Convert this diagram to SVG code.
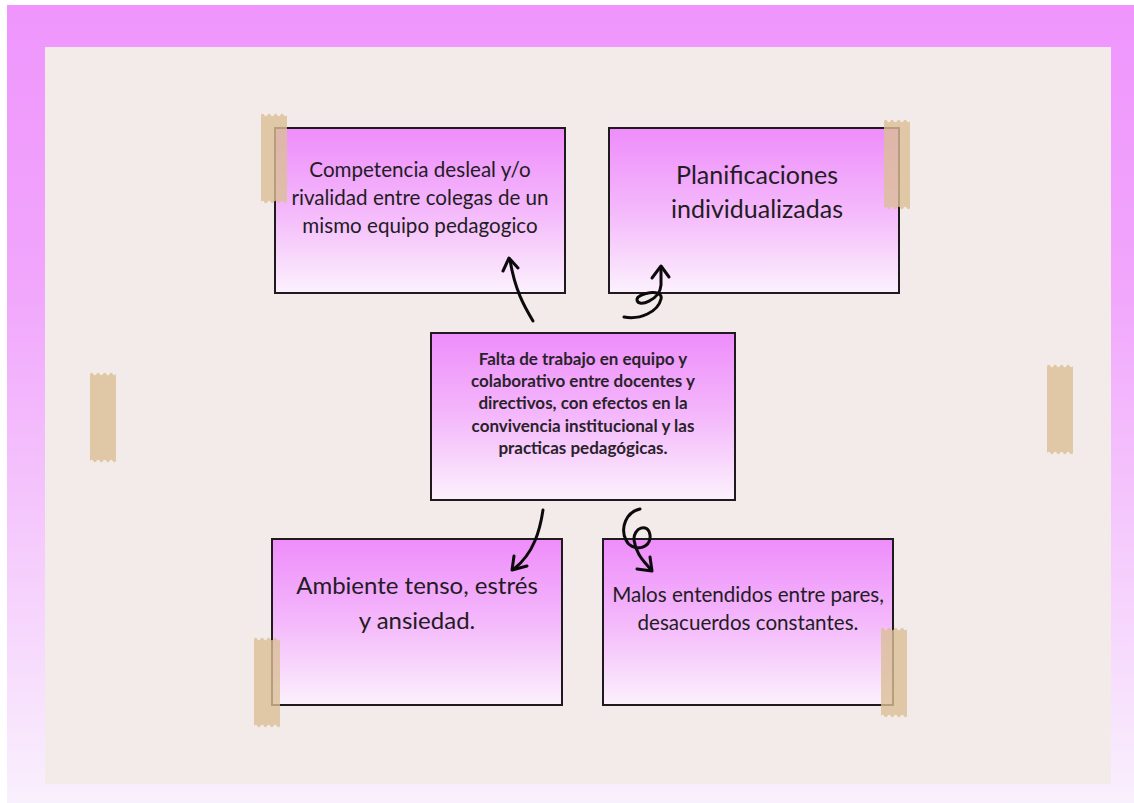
<svg xmlns="http://www.w3.org/2000/svg" width="1134" height="803" viewBox="0 0 1134 803">
<defs>
<linearGradient id="bgGrad" x1="0" y1="0" x2="0" y2="1">
<stop offset="0" stop-color="#ef95fd"/>
<stop offset="0.35" stop-color="#f1a6fc"/>
<stop offset="1" stop-color="#f9f0fd"/>
</linearGradient>
<linearGradient id="boxGrad" x1="0" y1="0" x2="0" y2="1">
<stop offset="0" stop-color="#ee8dfb"/>
<stop offset="0.5" stop-color="#f4b8fb"/>
<stop offset="1" stop-color="#fcf1fd"/>
</linearGradient>
<path id="tape" d="M0,2 q1.6,-2.4 3.25,0 t3.25,0 t3.25,0 t3.25,0 t3.25,0 t3.25,0 t3.25,0 t3.25,0 L26,89 q-1.6,2.4 -3.25,0 t-3.25,0 t-3.25,0 t-3.25,0 t-3.25,0 t-3.25,0 t-3.25,0 t-3.25,0 Z"/>
</defs>
<style>
.box{fill:url(#boxGrad);stroke:#1e1a1e;stroke-width:2}
.tape{fill:#dbbf96;opacity:0.8}
.t{font-family:Lato,"Noto Sans","Liberation Sans",sans-serif;fill:#231c23;text-anchor:middle}
.tb{font-family:Lato,"Noto Sans","Liberation Sans",sans-serif;fill:#2a222a;text-anchor:middle;font-weight:bold}
.arr{fill:none;stroke:#0d0a0d;stroke-width:3;stroke-linecap:round;stroke-linejoin:round}
</style>
<rect x="0" y="0" width="1134" height="803" fill="#ffffff"/>
<rect x="7" y="5" width="1127" height="798" fill="url(#bgGrad)"/>
<rect x="45" y="47" width="1066" height="737" fill="#f3ebe9"/>

<g id="node-competencia">
<rect class="box" x="275" y="128" width="290" height="165"/>
<text class="t" font-size="20.6"><tspan x="420" y="177">Competencia desleal y/o</tspan><tspan x="420" y="205">rivalidad entre colegas de un</tspan><tspan x="420" y="233">mismo equipo pedagogico</tspan></text>
</g>
<g id="node-planificaciones">
<rect class="box" x="609" y="128" width="290" height="165"/>
<text class="t" font-size="25"><tspan x="757" y="184">Planificaciones</tspan><tspan x="757" y="218">individualizadas</tspan></text>
</g>
<g id="node-central">
<rect class="box" x="431" y="333" width="304" height="167"/>
<text class="tb" font-size="17"><tspan x="583" y="365">Falta de trabajo en equipo y</tspan><tspan x="583" y="387">colaborativo entre docentes y</tspan><tspan x="583" y="409">directivos, con efectos en la</tspan><tspan x="583" y="432">convivencia institucional y las</tspan><tspan x="583" y="454">practicas pedagógicas.</tspan></text>
</g>
<g id="node-ambiente">
<rect class="box" x="272" y="539" width="290" height="166"/>
<text class="t" font-size="24"><tspan x="417" y="594">Ambiente tenso, estrés</tspan><tspan x="417" y="629">y ansiedad.</tspan></text>
</g>
<g id="node-malos">
<rect class="box" x="603" y="539" width="290" height="166"/>
<text class="t" font-size="20.6"><tspan x="748" y="602">Malos entendidos entre pares,</tspan><tspan x="748" y="630">desacuerdos constantes.</tspan></text>
</g>

<g id="tapes">
<use href="#tape" class="tape" x="261" y="113"/>
<use href="#tape" class="tape" x="884" y="119"/>
<use href="#tape" class="tape" x="90" y="372"/>
<use href="#tape" class="tape" x="1047" y="364"/>
<use href="#tape" class="tape" x="254" y="637"/>
<use href="#tape" class="tape" x="881" y="627"/>
</g>

<g id="connectors">
<path class="arr" d="M533,321 C524,306 515,290 510,260"/>
<path class="arr" d="M503,271 L509,258 L518,268"/>
<path class="arr" d="M624,317 C640,320 658,312 661,299 C664,288 636,293 637,300 C638,308 660,300 661,285 L661,268"/>
<path class="arr" d="M652,278 L661,266 L669,277"/>
<path class="arr" d="M543,510 C540,530 534,553 514,569"/>
<path class="arr" d="M514,556 L512,570 L527,566"/>
<path class="arr" d="M640,509 C626,512 620,528 626,540 C631,552 652,550 650,535 C648,522 633,528 634,540 C636,555 645,562 651,570"/>
<path class="arr" d="M637,569 L652,571 L650,557"/>
</g>
</svg>
